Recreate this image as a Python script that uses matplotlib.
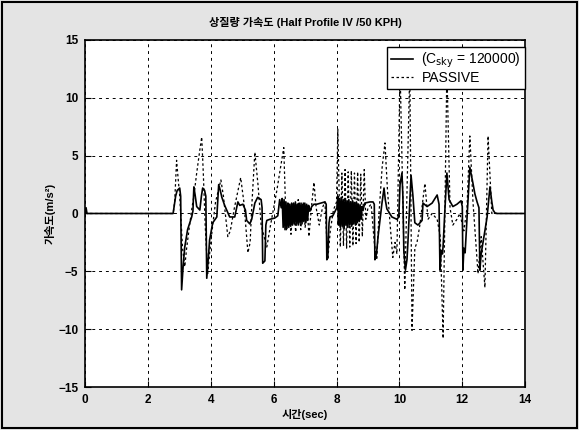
import matplotlib
matplotlib.use("Agg")
import matplotlib.pyplot as plt
from matplotlib.patches import Rectangle

plt.rcParams["font.family"] = ["Liberation Sans", "Noto Sans CJK KR", "DejaVu Sans"]

# active (skyhook, C_sky = 120000) response
t_sky = [0.0, 0.03, 0.06, 2.80, 2.88, 2.93, 3.01, 3.04, 3.07, 3.12, 3.17, 3.26, 3.39, 3.43,
         3.46, 3.50, 3.55, 3.65, 3.70, 3.74, 3.80, 3.84, 3.87, 3.93, 3.96, 4.06, 4.19, 4.25,
         4.30, 4.35, 4.44, 4.60, 4.76, 4.86, 4.92, 5.02, 5.10, 5.14, 5.24, 5.30, 5.40, 5.49,
         5.60, 5.63, 5.65, 5.72, 5.75, 5.78, 5.88, 6.03, 6.13, 6.19, 6.24,
         6.27, 6.30, 6.33, 6.36, 6.39, 6.42, 6.45, 6.48, 6.51, 6.54, 6.57, 6.60, 6.63, 6.66,
         6.69, 6.72, 6.75, 6.78, 6.81, 6.84, 6.87, 6.90, 6.93, 6.96, 6.99, 7.02, 7.05, 7.08,
         7.11, 7.15, 7.21, 7.28, 7.37, 7.50, 7.63, 7.67, 7.69, 7.72, 7.76, 7.79, 7.88, 8.01,
         8.04, 8.06, 8.09, 8.12, 8.15, 8.18, 8.21, 8.24, 8.27, 8.30, 8.33, 8.36, 8.39, 8.42,
         8.45, 8.48, 8.51, 8.54, 8.57, 8.60, 8.63, 8.66, 8.69, 8.72, 8.75, 8.78, 8.81, 8.84,
         8.90, 9.06, 9.16, 9.20, 9.22, 9.27, 9.32, 9.44, 9.51, 9.55, 9.60, 9.76, 9.92, 9.98,
         10.02, 10.08, 10.11, 10.14, 10.19, 10.24, 10.27, 10.37, 10.43, 10.49, 10.59, 10.72,
         10.75, 10.88, 11.04, 11.20, 11.26, 11.29, 11.33, 11.37, 11.39, 11.45, 11.51, 11.58,
         11.70, 11.83, 11.96, 12.00, 12.02, 12.05, 12.09, 12.15, 12.24, 12.34, 12.40, 12.47,
         12.53, 12.56, 12.60, 12.66, 12.79, 12.88, 12.94, 12.98, 13.04, 13.11, 14.0]
a_sky = [0.0, 0.5, 0.0, 0.0, 1.5, 2.0, 2.2, 1.5, -6.6, -4.5, -2.9, -1.4, -0.3, 0.2,
         2.3, 1.6, 0.6, 0.3, 1.5, 2.2, 2.0, 1.5, -5.6, -3.5, -2.3, -0.8, -0.3, 2.5,
         2.0, 1.4, 0.7, -0.3, -0.3, 1.0, 0.7, 0.8, 0.3, -0.6, -0.9, -0.5, 0.9, 1.4,
         1.2, 0.5, -4.3, -4.1, -1.0, -0.6, -0.5, -0.4, -0.2, 1.2, 0.5,
         1.3, -1.2, 1.2, -1.4, 1.0, -1.3, 0.9, -1.2, 0.8, -1.1, 0.9, -1.0, 0.9, -0.9,
         1.0, -0.9, 0.8, -1.0, 0.9, -0.8, 0.9, -0.9, 0.8, -0.7, 0.9, -0.8, 0.8, -0.6,
         0.7, 0.2, 0.6, 0.8, 0.8, 0.9, 1.0, 0.8, -4.0, -3.8, -0.8, -0.3, -0.2, 0.5,
         1.5, -1.0, 1.3, -1.2, 1.4, -1.1, 1.2, -1.3, 1.3, -1.0, 1.1, -1.2, 1.2, -1.0,
         1.0, -1.1, 1.1, -0.9, 0.9, -1.0, 1.0, -0.8, 0.8, -0.7, 0.7, -0.5, 0.6, 0.3,
         0.9, 1.0, 1.0, 0.8, -4.0, -3.5, -2.0, 0.8, 2.2, 1.2, 0.4, -0.3, -0.5, -0.3,
         2.5, 3.5, 1.5, -3.2, -4.9, -4.0, -2.5, 3.3, 1.5, -0.8, -1.0, -0.6,
         0.9, 0.6, 0.9, 1.6, 0.8, -4.9, -3.2, -3.5, -2.8, 0.5, 3.5, 1.2,
         0.6, 0.8, 1.1, 0.6, -4.9, -3.0, -3.4, -0.5, 4.0, 2.6, 1.7, 1.0,
         0.5, -4.9, -3.5, -2.5, -0.3, 2.3, 1.0, 0.3, 0.05, 0.0, 0.0]

# passive suspension response
t_pas = [0.0, 2.80, 2.85, 2.91, 2.96, 3.01, 3.10, 3.17, 3.23, 3.30, 3.40, 3.46, 3.55, 3.65,
         3.71, 3.76, 3.82, 3.90, 3.96, 4.06, 4.15, 4.32, 4.40, 4.54, 4.62, 4.75, 4.95, 5.05,
         5.18, 5.25, 5.30, 5.40, 5.50, 5.60, 5.78, 5.90, 6.10, 6.32, 6.40, 6.47, 6.55, 6.62,
         6.70, 6.78, 6.86, 6.94, 7.00, 7.07, 7.12, 7.20, 7.28, 7.35, 7.45, 7.55, 7.63, 7.72,
         7.80, 7.90, 8.00, 8.04, 8.08, 8.12, 8.17, 8.22, 8.27, 8.32, 8.37, 8.42, 8.47, 8.52,
         8.57, 8.62, 8.67, 8.72, 8.77, 8.82, 8.88, 8.93, 9.00, 9.10, 9.20, 9.28, 9.35, 9.45,
         9.54, 9.62, 9.72, 9.79, 9.86, 9.92, 10.02, 10.17, 10.33, 10.40, 10.49, 10.56, 10.65,
         10.81, 10.91, 11.04, 11.20, 11.30, 11.39, 11.51, 11.61, 11.70, 11.83, 11.92, 12.05,
         12.15, 12.24, 12.34, 12.50, 12.60, 12.72, 12.82, 12.94, 13.04, 14.0]
a_pas = [0.0, 0.0, 1.0, 4.6, 3.0, 1.5, -3.0, -4.6, -3.0, -1.5, 0.5, 1.5, 3.5, 5.5,
         6.6, 3.5, -1.0, -5.2, -3.5, -1.0, 1.0, 2.9, 1.5, -2.0, -1.5, 0.5, 3.1, 1.0,
         -3.4, -2.5, 0.5, 5.3, 2.5, -1.0, -2.9, -1.0, 2.0, 5.7, -1.5, 1.0, -1.8, 0.8,
         -1.6, 1.2, -1.4, 1.0, -1.2, 0.5, -2.0, 0.5, 2.7, 0.5, -1.0, 0.5, 1.0, -4.0,
         -1.5, 0.3, 1.0, 7.3, 2.0, -2.9, 3.5, -2.8, 3.8, -3.0, 3.6, -2.9, 3.7, -2.8,
         3.5, -2.6, 3.6, -2.5, 3.4, -2.0, 3.8, -0.5, 0.5, 0.8, -2.5, -4.0, 0.0, 4.0,
         6.1, 2.0, -1.5, -3.8, -2.5, -3.5, 12.5, -6.6, 12.5, -10.1, -3.0, -2.5, -1.0,
         2.6, -0.5, 0.0, -0.5, -2.0, -10.8, 12.5, 0.5, -1.0, -0.5, 0.0, -1.5,
         0.5, 6.7, 1.0, -5.2, -2.0, -6.4, 6.7, 0.0, 0.0, 0.0]

x_ticks = [0, 2, 4, 6, 8, 10, 12, 14]
y_ticks = [-15, -10, -5, 0, 5, 10, 15]

fig = plt.figure(figsize=(5.79, 4.30), dpi=100, facecolor="#e4e4e4")
ax = fig.add_axes([0.147, 0.100, 0.760, 0.807])
ax.set_facecolor("white")

ax.plot(t_sky, a_sky, color="black", lw=1.2, label=r"(C$_\mathrm{sky}$ = 120000)", zorder=3)
ax.plot(t_pas, a_pas, color="black", lw=0.9, ls=(0, (2, 2)), label="PASSIVE", zorder=2)

ax.set_xlim(0, 14)
ax.set_ylim(-15, 15)
ax.set_xticks(x_ticks)
ax.set_yticks(y_ticks)
ax.tick_params(direction="in", length=4, width=0.8, labelsize=8.5, pad=5)
for lab in ax.get_xticklabels() + ax.get_yticklabels():
    lab.set_fontweight("bold")
ax.grid(True, color="black", lw=0.7, ls=(0, (3, 4)))
for s in ax.spines.values():
    s.set_linewidth(1.2)

ax.set_title("상질량 가속도 (Half Profile IV /50 KPH)", fontsize=8, fontweight="bold", pad=10)
ax.set_xlabel("시간(sec)", fontsize=8, fontweight="bold", labelpad=2)
ax.set_ylabel("가속도(m/s²)", fontsize=8, fontweight="bold", labelpad=2)

leg = ax.legend(loc="upper right", bbox_to_anchor=(1.0, 0.98), fontsize=10, frameon=True,
                fancybox=False, borderaxespad=0.0, handlelength=1.6, borderpad=0.3,
                labelspacing=0.05, handletextpad=0.6)
leg.get_frame().set_edgecolor("black")
leg.get_frame().set_linewidth(1.0)
leg.get_frame().set_alpha(1.0)

fig.patches.append(Rectangle((0.004, 0.005), 0.992, 0.99, transform=fig.transFigure,
                             fill=False, edgecolor="black", lw=1.5))

fig.savefig("out.png", dpi=100, facecolor=fig.get_facecolor())
